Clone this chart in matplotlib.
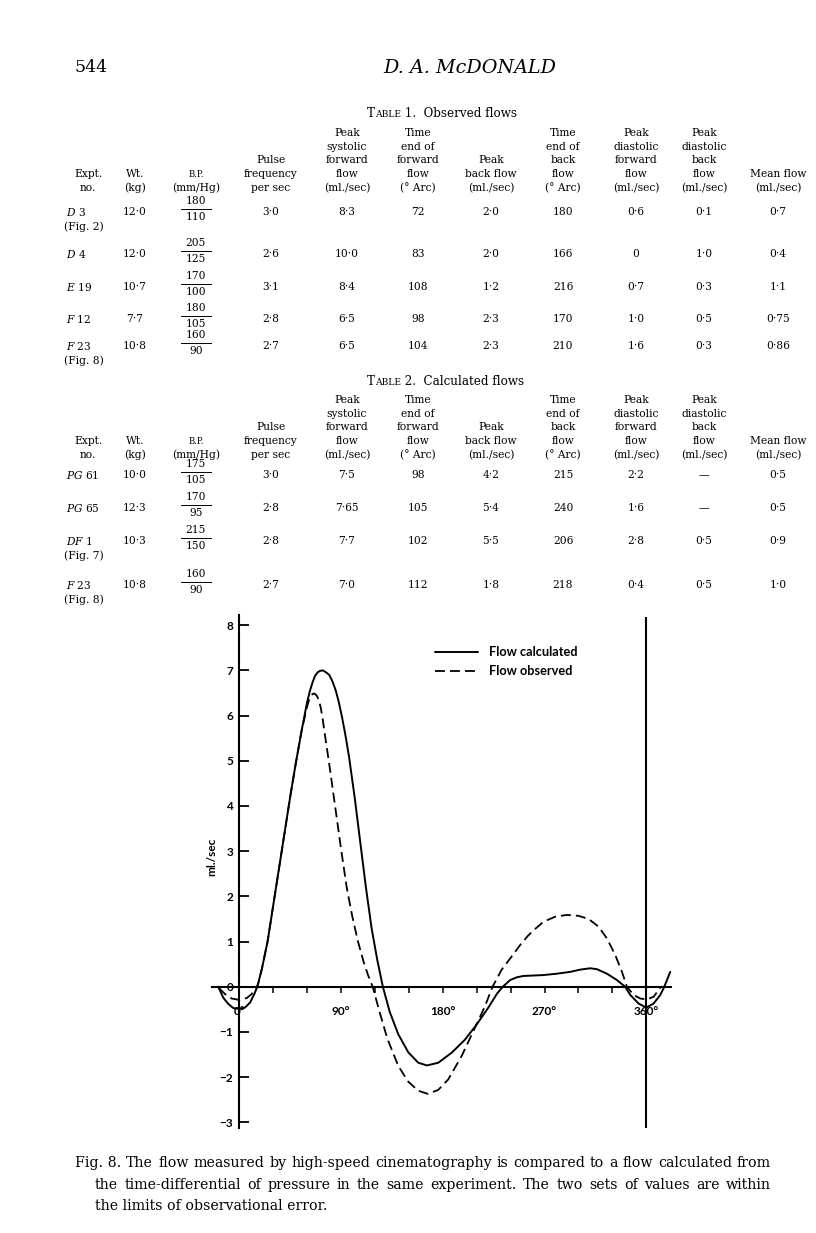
import matplotlib
matplotlib.use("Agg")
import matplotlib.pyplot as plt
from matplotlib.lines import Line2D

W, H = 816, 1233

# ---- table data -------------------------------------------------------
headers = [
    ["Expt.", "no."],
    ["Wt.", "(kg)"],
    ["B.P.", "(mm/Hg)"],
    ["Pulse", "frequency", "per sec"],
    ["Peak", "systolic", "forward", "flow", "(ml./sec)"],
    ["Time", "end of", "forward", "flow", "(° Arc)"],
    ["Peak", "back flow", "(ml./sec)"],
    ["Time", "end of", "back", "flow", "(° Arc)"],
    ["Peak", "diastolic", "forward", "flow", "(ml./sec)"],
    ["Peak", "diastolic", "back", "flow", "(ml./sec)"],
    ["Mean flow", "(ml./sec)"],
]

t1_expt = [("D", "3"), ("D", "4"), ("E", "19"), ("F", "12"), ("F", "23")]
t1_note = ["(Fig. 2)", "", "", "", "(Fig. 8)"]
t1_bp = [("180", "110"), ("205", "125"), ("170", "100"), ("180", "105"), ("160", "90")]
t1_vals = [
    ["12·0", "3·0", "8·3", "72", "2·0", "180", "0·6", "0·1", "0·7"],
    ["12·0", "2·6", "10·0", "83", "2·0", "166", "0", "1·0", "0·4"],
    ["10·7", "3·1", "8·4", "108", "1·2", "216", "0·7", "0·3", "1·1"],
    ["7·7", "2·8", "6·5", "98", "2·3", "170", "1·0", "0·5", "0·75"],
    ["10·8", "2·7", "6·5", "104", "2·3", "210", "1·6", "0·3", "0·86"],
]

t2_expt = [("PG", "61"), ("PG", "65"), ("DF", "1"), ("F", "23")]
t2_note = ["", "", "(Fig. 7)", "(Fig. 8)"]
t2_bp = [("175", "105"), ("170", "95"), ("215", "150"), ("160", "90")]
t2_vals = [
    ["10·0", "3·0", "7·5", "98", "4·2", "215", "2·2", "—", "0·5"],
    ["12·3", "2·8", "7·65", "105", "5·4", "240", "1·6", "—", "0·5"],
    ["10·3", "2·8", "7·7", "102", "5·5", "206", "2·8", "0·5", "0·9"],
    ["10·8", "2·7", "7·0", "112", "1·8", "218", "0·4", "0·5", "1·0"],
]

# ---- figure 8 data (degrees of arc, ml./sec) --------------------------
calc_deg = [-18.6, -14.2, -9.7, -5.3, 0, 5, 9.5, 13.3, 15.9, 20, 25, 30, 35, 40,
            45, 50, 55, 60, 62.5, 65, 67, 69.4, 71.5, 73.7, 76, 79.6, 82.5,
            85.4, 88, 91, 94, 97, 102, 107, 112, 117, 122, 127, 133, 140.6,
            149.5, 158.3, 166, 176, 187.8, 199.6, 209.5, 220.3, 228, 233,
            239.6, 245.5, 251.4, 260.3, 269.1, 280.9, 292.7, 301.6, 310.4,
            316.3, 325.2, 334, 341.4, 345.8, 353.2, 360, 366.5, 372.4, 375.9,
            381.2]
calc_flow = [0, -0.24, -0.38, -0.47, -0.49, -0.46, -0.35, -0.16, 0, 0.4, 1.0,
             1.8, 2.6, 3.4, 4.2, 4.95, 5.65, 6.3, 6.55, 6.75, 6.88, 6.96, 6.99,
             7.0, 6.97, 6.9, 6.75, 6.55, 6.3, 5.95, 5.55, 5.1, 4.2, 3.2, 2.2,
             1.3, 0.6, 0.0, -0.55, -1.05, -1.45, -1.68, -1.74, -1.68, -1.46,
             -1.17, -0.85, -0.46, -0.15, 0.0, 0.15, 0.21, 0.24, 0.25, 0.26,
             0.29, 0.33, 0.38, 0.41, 0.39, 0.29, 0.15, 0.0, -0.18, -0.37,
             -0.46, -0.37, -0.18, 0.0, 0.33]

obs_deg = [-18.0, -12.6, -6.7, 0, 6.5, 11.0, 14.8, 16.5, 20, 25, 30, 35, 40,
           45, 50, 55, 60, 61.5, 63, 64.5, 66, 67.5, 69, 70.5, 72, 73.5, 75,
           80, 85, 90, 95, 100, 105, 110, 114, 118, 124, 131, 140.6, 149.5,
           158.3, 167, 176, 184.8, 196.7, 209.5, 217.3, 224, 232.1, 240.9,
           248.3, 255, 260.3, 269.1, 279.4, 289.8, 300.1, 309, 317.8, 325.2,
           332.6, 338.5, 342.9, 348.8, 354.7, 360.6, 366.5, 370.9, 373]
obs_flow = [-0.03, -0.16, -0.26, -0.29, -0.25, -0.16, -0.03, 0.05, 0.4, 1.0,
            1.8, 2.6, 3.4, 4.2, 4.95, 5.65, 6.2, 6.33, 6.42, 6.47, 6.49, 6.47,
            6.42, 6.33, 6.18, 5.97, 5.7, 4.85, 3.95, 3.05, 2.2, 1.55, 1.0,
            0.55, 0.25, 0.0, -0.55, -1.15, -1.75, -2.1, -2.3, -2.37, -2.28,
            -2.05, -1.53, -0.85, -0.43, 0.0, 0.38, 0.67, 0.92, 1.12, 1.25,
            1.44, 1.55, 1.59, 1.57, 1.5, 1.33, 1.07, 0.7, 0.33, 0.0, -0.18,
            -0.26, -0.28, -0.22, -0.07, 0.0]

y_ticks = [-3, -2, -1, 0, 1, 2, 3, 4, 5, 6, 7, 8]
x_major = [0, 90, 180, 270, 360]
x_minor = [30 * i for i in range(13)]

SERIF = "DejaVu Serif"
plt.rcParams["mathtext.fontset"] = "dejavuserif"


def fx(x):
    return x / W


def fy(y):
    return 1 - y / H


fig = plt.figure(figsize=(W / 100, H / 100), dpi=100)
fig.patch.set_facecolor("white")

# page header
fig.text(fx(75), fy(68), "544", fontsize=12.5, family=SERIF, va="center", ha="left")
fig.text(fx(470), fy(68), "D. A. McDONALD", fontsize=13.8, family=SERIF,
         style="italic", va="center", ha="center")

col_x = [88, 135, 196, 271, 347, 418, 491, 563, 636, 704, 778]
TS = 7.7


def draw_table(word, rest, title_y, head_bottom, expt, notes, bp, vals, row_y):
    # small-caps style title: large initial, smaller remaining capitals
    t = fig.text(fx(367), fy(title_y), word[0], fontsize=8.6, family=SERIF,
                 ha="left", va="baseline")
    fig.canvas.draw()
    bb = t.get_window_extent()
    t2 = fig.text(bb.x1 / W, fy(title_y), word[1:].upper(), fontsize=6.6,
                  family=SERIF, ha="left", va="baseline")
    fig.canvas.draw()
    bb = t2.get_window_extent()
    fig.text(bb.x1 / W, fy(title_y), rest, fontsize=8.6, family=SERIF,
             ha="left", va="baseline")
    for cx, lines in zip(col_x, headers):
        n = len(lines)
        for i, s in enumerate(lines):
            y = head_bottom - (n - 1 - i) * 13.8
            size = TS * 0.8 if s == "B.P." else TS
            fig.text(fx(cx), fy(y), s, fontsize=size, family=SERIF,
                     ha="center", va="center")
    for r, y in enumerate(row_y):
        letter, num = expt[r]
        fig.text(fx(66), fy(y), r"$\mathit{%s}$ %s" % (letter, num),
                 fontsize=TS, family=SERIF, ha="left", va="center")
        if notes[r]:
            fig.text(fx(64), fy(y + 15), notes[r], fontsize=TS, family=SERIF,
                     ha="left", va="center")
        top, bot = bp[r]
        fig.text(fx(col_x[2]), fy(y - 11), top, fontsize=TS, family=SERIF,
                 ha="center", va="center")
        fig.text(fx(col_x[2]), fy(y + 5), bot, fontsize=TS, family=SERIF,
                 ha="center", va="center")
        fig.add_artist(Line2D([fx(col_x[2] - 15), fx(col_x[2] + 15)],
                              [fy(y - 3), fy(y - 3)], color="black", lw=0.7))
        cols = [col_x[1]] + col_x[3:]
        for cx, v in zip(cols, vals[r]):
            fig.text(fx(cx), fy(y), v, fontsize=TS, family=SERIF,
                     ha="center", va="center")


draw_table("Table", " 1.  Observed flows", 117, 188, t1_expt, t1_note, t1_bp,
           t1_vals, [212, 254, 287, 319, 346])
draw_table("Table", " 2.  Calculated flows", 385, 455, t2_expt, t2_note, t2_bp,
           t2_vals, [475, 508, 541, 585])

# ---- the figure -----------------------------------------------------------
x0, x1 = -30, 390
y0, y1 = -3.3, 8.4
px_per_deg = 1.1305
px_per_unit = 45.2
left_px = 239.3 + px_per_deg * x0
right_px = 239.3 + px_per_deg * x1
top_px = 986.8 - px_per_unit * y1
bot_px = 986.8 - px_per_unit * y0
ax = fig.add_axes([left_px / W, 1 - bot_px / H,
                   (right_px - left_px) / W, (bot_px - top_px) / H])
ax.set_xlim(x0, x1)
ax.set_ylim(y0, y1)
ax.patch.set_alpha(0)

FONT = "Lato"
FS = 8.5

l1, = ax.plot(calc_deg, calc_flow, color="black", lw=1.4,
              label="Flow calculated", solid_joinstyle="round",
              solid_capstyle="round")
l2, = ax.plot(obs_deg, obs_flow, color="black", lw=1.3, dashes=(5.5, 2.8),
              label="Flow observed", dash_joinstyle="round")
ax.vlines(360, -3.12, 8.18, color="black", lw=1.5)

for s in ["top", "right"]:
    ax.spines[s].set_visible(False)
ax.spines["left"].set_position(("data", 0))
ax.spines["bottom"].set_position(("data", 0))
ax.spines["left"].set_bounds(-3.12, 8.22)
ax.spines["bottom"].set_bounds(-24.4, 382)
ax.spines["left"].set_linewidth(1.5)
ax.spines["bottom"].set_linewidth(1.5)

ax.set_yticks(y_ticks)
ax.set_yticklabels([str(v).replace("-", "\u2212") for v in y_ticks],
                   fontfamily=FONT, fontweight="bold", fontsize=FS)
ax.tick_params(axis="y", direction="in", length=7, width=1.3, pad=4.5)

ax.set_xticks(x_major)
ax.set_xticklabels([f"{v}°" for v in x_major], fontfamily=FONT,
                   fontweight="bold", fontsize=FS)
ax.set_xticks(x_minor, minor=True)
ax.tick_params(axis="x", which="both", direction="out", length=4.5,
               width=1.1, pad=9.5)

fig.text(fx(212), fy(857), "ml./sec", rotation=90, ha="center", va="center",
         fontfamily=FONT, fontweight="bold", fontsize=FS)

leg = ax.legend(handles=[l1, l2], loc="upper left",
                bbox_to_anchor=((435 - left_px) / (right_px - left_px),
                                (bot_px - 646) / (bot_px - top_px)),
                frameon=False, borderpad=0, borderaxespad=0,
                handlelength=3.4, handletextpad=0.8, labelspacing=0.55,
                prop={"family": FONT, "weight": "bold", "size": 9.2})

# caption, first two lines justified to the right margin
cap = [
    "Fig. 8.  The flow measured by high-speed cinematography is compared to a flow calculated from",
    "the time-differential of pressure in the same experiment. The two sets of values are within",
    "the limits of observational error.",
]
cap_x = [75, 95, 95]
cap_y = [1163, 1185, 1206]
CS = 10.2
RIGHT = 771
renderer = fig.canvas.get_renderer()
for k, line in enumerate(cap):
    if k == len(cap) - 1:
        fig.text(fx(cap_x[k]), fy(cap_y[k]), line, fontsize=CS, family=SERIF,
                 va="center")
        continue
    words = line.split()
    if k == 0:
        words = [words[0] + " " + words[1]] + words[2:]
    arts = [fig.text(0, fy(cap_y[k]), w, fontsize=CS, family=SERIF,
                     va="center") for w in words]
    widths = [a.get_window_extent(renderer).width for a in arts]
    gap = (RIGHT - cap_x[k] - sum(widths)) / (len(words) - 1)
    xpos = cap_x[k]
    for a, wd in zip(arts, widths):
        a.set_x(fx(xpos))
        xpos += wd + gap

fig.savefig("out.png", dpi=100)
